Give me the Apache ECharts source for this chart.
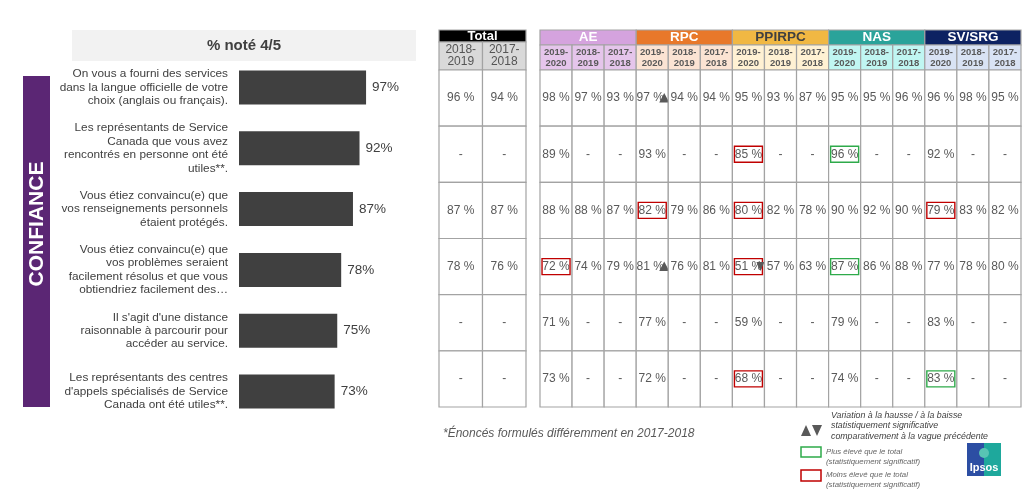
<!DOCTYPE html>
<html><head><meta charset="utf-8">
<script src="https://cdn.jsdelivr.net/npm/echarts@6/dist/echarts.min.js"></script>
<style>html,body{margin:0;padding:0;background:#fff}#c{width:1031px;height:495px}</style>
</head><body><div id="c"></div>
<script>
// ---------- DATA ----------
const questions = [
  "On vous a fourni des services\ndans la langue officielle de votre\nchoix (anglais ou français).",
  "Les représentants de Service\nCanada que vous avez\nrencontrés en personne ont été\nutiles**.",
  "Vous étiez convaincu(e) que\nvos renseignements personnels\nétaient protégés.",
  "Vous étiez convaincu(e) que\nvos problèmes seraient\nfacilement résolus et que vous\nobtiendriez facilement des…",
  "Il s'agit d'une distance\nraisonnable à parcourir pour\naccéder au service.",
  "Les représentants des centres\nd'appels spécialisés de Service\nCanada ont été utiles**."
];
const scores = [97, 92, 87, 78, 75, 73];

const totalYears = ["2018-\n2019", "2017-\n2018"];
const totalValues = [[96, 94], [null, null], [87, 87], [78, 76], [null, null], [null, null]];

const groups = ["AE", "RPC", "PPIRPC", "NAS", "SV/SRG"];
const years = ["2019-\n2020", "2018-\n2019", "2017-\n2018"];
const AE     = [[98, 97, 93], [89, null, null], [88, 88, 87], [72, 74, 79], [71, null, null], [73, null, null]];
const RPC    = [[97, 94, 94], [93, null, null], [82, 79, 86], [81, 76, 81], [77, null, null], [72, null, null]];
const PPIRPC = [[95, 93, 87], [85, null, null], [80, 82, 78], [51, 57, 63], [59, null, null], [68, null, null]];
const NAS    = [[95, 95, 96], [96, null, null], [90, 92, 90], [87, 86, 88], [79, null, null], [74, null, null]];
const SVSRG  = [[96, 98, 95], [92, null, null], [79, 83, 82], [77, 78, 80], [83, null, null], [83, null, null]];
const groupValues = [AE, RPC, PPIRPC, NAS, SVSRG];

// [row, column] in the 15-column table
const lowerThanTotal  = [[1, 6], [2, 3], [2, 6], [2, 12], [3, 0], [3, 6], [5, 6]];
const higherThanTotal = [[1, 9], [3, 9], [5, 12]];
const upTrend   = [[0, 3], [3, 3]];
const downTrend = [[3, 6]];

// ---------- STYLE ----------
const FONT = 'Arial, "Liberation Sans", sans-serif';
const groupHeadFill = ["#d5a3de", "#e8782a", "#f1b843", "#2aa39a", "#0d2262"];
const groupHeadText = ["#ffffff", "#ffffff", "#404040", "#ffffff", "#ffffff"];
const groupSubFill  = ["#e5c5eb", "#fbe3d3", "#fff1d3", "#c0f6f2", "#d9e3f4"];
const BORDER = "#a3a3a3";
const RED = "#c00000", GREEN = "#2eaa4a";

const rowIds = questions.map((q, i) => "r" + i);
const colIds = [];
groups.forEach(g => years.forEach(y => colIds.push(g + " " + y)));

function has(list, r, c) { return list.some(p => p[0] === r && p[1] === c); }

// cells
const totalHeadCells = [{x: 0, y: 0, fill: "#000000", text: "Total", color: "#ffffff", font: "bold 13px " + FONT}];
const totalSubCells = totalYears.map((t, i) => ({x: i, y: 0, fill: "#d9d9d9", text: t, color: "#555555", font: "12px " + FONT, lh: 12}));
const totalBodyCells = [];
totalValues.forEach((row, r) => row.forEach((v, c) => totalBodyCells.push({
  x: c, y: r, fill: "#ffffff", text: v == null ? "-" : v + " %", color: "#595959", font: "12px " + FONT
})));
const groupHeadCells = groups.map((g, i) => ({x: i, y: 0, fill: groupHeadFill[i], text: g, color: groupHeadText[i], font: "bold 13.5px " + FONT}));
const subCells = colIds.map((id, i) => ({x: i, y: 0, fill: groupSubFill[Math.floor(i / 3)], text: years[i % 3], color: "#595959", font: "bold 9.5px " + FONT, lh: 11}));
const bodyCells = [];
for (let r = 0; r < rowIds.length; r++) {
  for (let c = 0; c < colIds.length; c++) {
    const v = groupValues[Math.floor(c / 3)][r][c % 3];
    bodyCells.push({
      x: c, y: r, fill: "#ffffff", text: v == null ? "-" : v + " %", color: "#595959", font: "12px " + FONT,
      box: has(lowerThanTotal, r, c) ? RED : (has(higherThanTotal, r, c) ? GREEN : null),
      trend: has(upTrend, r, c) ? "up" : (has(downTrend, r, c) ? "down" : null)
    });
  }
}

function cellRenderer(cells) {
  return function (params, api) {
    const cell = cells[params.dataIndex];
    const p = api.coord([api.value(0), api.value(1)]);
    const s = api.size([1, 1]);
    const children = [{
      type: "rect",
      shape: {x: p[0] - s[0] / 2, y: p[1] - s[1] / 2, width: s[0], height: s[1]},
      style: {fill: cell.fill, stroke: BORDER, lineWidth: 1.2}
    }];
    const dx = cell.trend === "up" ? -2 : 0;
    children.push({
      type: "text",
      style: {text: cell.text, x: p[0] + dx, y: p[1], align: "center", verticalAlign: "middle",
              fill: cell.color, font: cell.font, lineHeight: cell.lh || undefined}
    });
    if (cell.box) {
      children.push({type: "rect", shape: {x: p[0] - 14, y: p[1] - 8, width: 28, height: 16},
        style: {fill: "none", stroke: cell.box, lineWidth: 1.4}});
    }
    if (cell.trend) {
      const tx = p[0] + 12, ty = p[1];
      const pts = cell.trend === "up"
        ? [[tx - 5, ty + 4.5], [tx + 5, ty + 4.5], [tx, ty - 5]]
        : [[tx - 4, ty - 4.5], [tx + 4, ty - 4.5], [tx, ty + 4.5]];
      children.push({type: "polygon", shape: {points: pts}, style: {fill: "#595959"}});
    }
    return {type: "group", children};
  };
}

function cellSeries(idx, cells) {
  return {
    type: "custom", xAxisIndex: idx, yAxisIndex: idx, silent: true, clip: false,
    renderItem: cellRenderer(cells), data: cells.map(c => [c.x, c.y])
  };
}

const base = {outerBoundsMode: "none", containLabel: false};
const grids = [
  {left: 239, top: 57, width: 131, height: 365},
  {left: 439, top: 30, width: 87, height: 12},
  {left: 439, top: 42, width: 87, height: 28},
  {left: 439, top: 70, width: 87, height: 337},
  {left: 540, top: 30, width: 481, height: 15},
  {left: 540, top: 45, width: 481, height: 25},
  {left: 540, top: 70, width: 481, height: 337}
].map(g => Object.assign({}, base, g));

const hiddenCat = (gi, data, inverse) => ({type: "category", gridIndex: gi, data, show: false, inverse: !!inverse});

const option = {
  animation: false,
  backgroundColor: "#ffffff",
  grid: grids,
  xAxis: [
    {type: "value", gridIndex: 0, min: 0, max: 100, show: false},
    hiddenCat(1, ["Total"]),
    hiddenCat(2, totalYears),
    hiddenCat(3, totalYears),
    hiddenCat(4, groups),
    hiddenCat(5, colIds),
    hiddenCat(6, colIds)
  ],
  yAxis: [
    {type: "category", gridIndex: 0, data: questions, inverse: true,
     axisLine: {show: false}, axisTick: {show: false},
     axisLabel: {margin: 11, align: "right", fontFamily: FONT, fontSize: 11.8, lineHeight: 13.4, color: "#404040"}},
    hiddenCat(1, ["h"]),
    hiddenCat(2, ["h"]),
    hiddenCat(3, rowIds, true),
    hiddenCat(4, ["h"]),
    hiddenCat(5, ["h"]),
    hiddenCat(6, rowIds, true)
  ],
  series: [
    {type: "bar", xAxisIndex: 0, yAxisIndex: 0, data: scores, barWidth: 34,
     itemStyle: {color: "#404040"},
     label: {show: true, position: "right", distance: 6, formatter: "{c}%",
             fontFamily: FONT, fontSize: 13.5, color: "#404040"}},
    cellSeries(1, totalHeadCells),
    cellSeries(2, totalSubCells),
    cellSeries(3, totalBodyCells),
    cellSeries(4, groupHeadCells),
    cellSeries(5, subCells),
    cellSeries(6, bodyCells)
  ],
  graphic: [
    {type: "rect", shape: {x: 72, y: 30, width: 344, height: 31}, style: {fill: "#f2f2f2"}, silent: true},
    {type: "text", x: 244, y: 46, style: {text: "% noté 4/5", align: "center", verticalAlign: "middle",
      font: "bold 15px " + FONT, fill: "#404040"}},
    {type: "rect", shape: {x: 23, y: 76, width: 27, height: 331}, style: {fill: "#5b2674"}},
    {type: "text", x: 37, y: 224, rotation: Math.PI / 2, style: {text: "CONFIANCE", align: "center",
      verticalAlign: "middle", font: "bold 21px " + FONT, fill: "#ffffff"}},
    {type: "text", x: 443, y: 434, style: {text: "*Énoncés formulés différemment en 2017-2018",
      align: "left", verticalAlign: "middle", font: "italic 12px " + FONT, fill: "#595959"}},
    // legend
    {type: "polygon", shape: {points: [[801, 436], [811, 436], [806, 425]]}, style: {fill: "#595959"}},
    {type: "polygon", shape: {points: [[812, 425], [822, 425], [817, 436]]}, style: {fill: "#595959"}},
    {type: "text", x: 831, y: 426, style: {text: "Variation à la hausse / à la baisse\nstatistiquement significative\ncomparativement à la vague précédente",
      align: "left", verticalAlign: "middle", font: "italic 8.8px " + FONT, lineHeight: 10.2, fill: "#404040"}},
    {type: "rect", shape: {x: 801, y: 447, width: 20, height: 10}, style: {fill: "none", stroke: GREEN, lineWidth: 1.5}},
    {type: "text", x: 826, y: 457, style: {text: "Plus élevé que le total\n(statistiquement significatif)",
      align: "left", verticalAlign: "middle", font: "italic 7.8px " + FONT, lineHeight: 10, fill: "#666666"}},
    {type: "rect", shape: {x: 801, y: 470, width: 20, height: 11}, style: {fill: "none", stroke: RED, lineWidth: 1.5}},
    {type: "text", x: 826, y: 480, style: {text: "Moins élevé que le total\n(statistiquement significatif)",
      align: "left", verticalAlign: "middle", font: "italic 7.8px " + FONT, lineHeight: 10, fill: "#666666"}},
    // logo
    {type: "rect", shape: {x: 967, y: 443, width: 34, height: 33},
      style: {fill: new echarts.graphic.LinearGradient(0, 0, 1, 0, [{offset: 0, color: "#2c4ea3"}, {offset: 0.5, color: "#2c4ea3"}, {offset: 0.5, color: "#1ea89c"}, {offset: 1, color: "#1ea89c"}])}},
    {type: "circle", shape: {cx: 984, cy: 453, r: 5}, style: {fill: "#58c4b4"}},
    {type: "text", x: 984, y: 468, style: {text: "Ipsos", align: "center", verticalAlign: "middle",
      font: "bold 11px " + FONT, fill: "#ffffff"}}
  ]
};

const chart = echarts.init(document.getElementById("c"));
chart.setOption(option);
</script>
</body></html>
